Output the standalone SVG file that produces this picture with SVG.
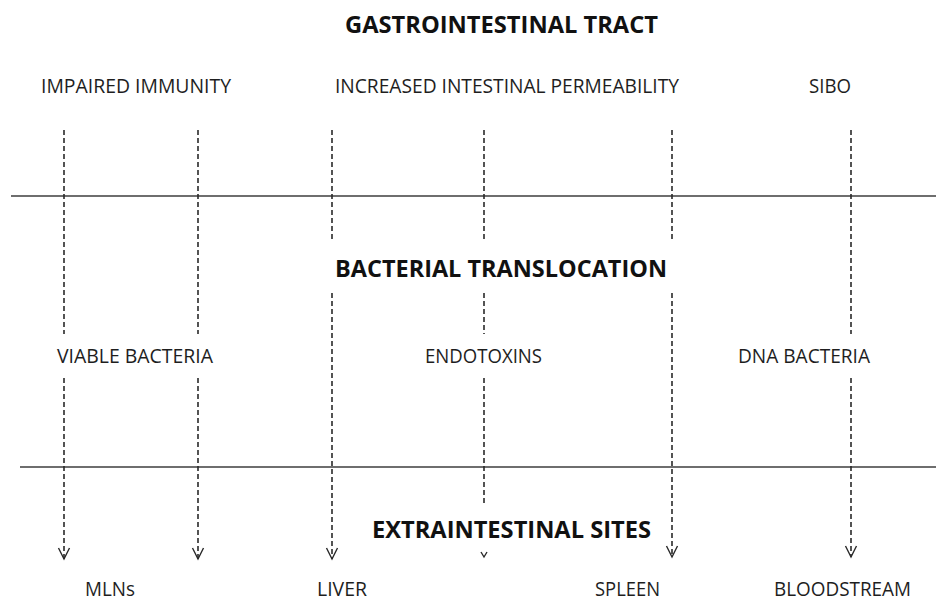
<svg xmlns="http://www.w3.org/2000/svg" width="936" height="601" viewBox="0 0 936 601">
<style>
.t{font-family:"Open Sans","Liberation Sans",sans-serif;font-size:20px;fill:#1e1e1e;text-anchor:start}
.h{font-family:"Open Sans","Liberation Sans",sans-serif;font-size:24px;font-weight:bold;fill:#111}
.d{stroke:#2a2a2a;stroke-width:1.6;stroke-dasharray:5 3;fill:none}
.s{stroke:#6e6e6e;stroke-width:2;fill:none}
.a{stroke:#2a2a2a;stroke-width:1.4;fill:none}
</style>
<defs>
<marker id="arr" markerUnits="userSpaceOnUse" markerWidth="16" markerHeight="16" refX="12" refY="7" orient="auto" viewBox="0 0 16 16">
<path d="M1,1.5 L12,7 L1,12.5" class="a"/>
</marker>
</defs>
<rect width="936" height="601" fill="#fff"/>
<g id="separators">
<line x1="11" y1="196" x2="936" y2="196" class="s"/>
<line x1="20" y1="467" x2="936" y2="467" class="s"/>
</g>
<g id="connectors">
<line x1="64" y1="130" x2="64" y2="334" class="d"/>
<line x1="64" y1="378" x2="64" y2="559" class="d" marker-end="url(#arr)"/>
<line x1="198" y1="130" x2="198" y2="334" class="d"/>
<line x1="198" y1="378" x2="198" y2="559" class="d" marker-end="url(#arr)"/>
<line x1="332" y1="130" x2="332" y2="241" class="d"/>
<line x1="332" y1="293" x2="332" y2="559" class="d" marker-end="url(#arr)"/>
<line x1="484" y1="130" x2="484" y2="241" class="d"/>
<line x1="484" y1="293" x2="484" y2="334" class="d"/>
<line x1="484" y1="378" x2="484" y2="504" class="d"/>
<path d="M481,552 L484,557 L487,552" class="a"/>
<line x1="672" y1="130" x2="672" y2="241" class="d"/>
<line x1="672" y1="293" x2="672" y2="557" class="d" marker-end="url(#arr)"/>
<line x1="851" y1="130" x2="851" y2="334" class="d"/>
<line x1="851" y1="378" x2="851" y2="557" class="d" marker-end="url(#arr)"/>
</g>
<g id="title-gi"><text class="h" x="345" y="33" textLength="313" lengthAdjust="spacingAndGlyphs">GASTROINTESTINAL TRACT</text></g>
<g id="impaired-immunity"><text class="t" x="41" y="93" textLength="190" lengthAdjust="spacingAndGlyphs">IMPAIRED IMMUNITY</text></g>
<g id="permeability"><text class="t" x="335" y="93" textLength="344" lengthAdjust="spacingAndGlyphs">INCREASED INTESTINAL PERMEABILITY</text></g>
<g id="sibo"><text class="t" x="809" y="93" textLength="42" lengthAdjust="spacingAndGlyphs">SIBO</text></g>
<g id="title-bt"><text class="h" x="335" y="277" textLength="332" lengthAdjust="spacingAndGlyphs">BACTERIAL TRANSLOCATION</text></g>
<g id="viable-bacteria"><text class="t" x="57" y="363" textLength="156" lengthAdjust="spacingAndGlyphs">VIABLE BACTERIA</text></g>
<g id="endotoxins"><text class="t" x="425" y="363" textLength="117" lengthAdjust="spacingAndGlyphs">ENDOTOXINS</text></g>
<g id="dna-bacteria"><text class="t" x="738" y="363" textLength="132" lengthAdjust="spacingAndGlyphs">DNA BACTERIA</text></g>
<g id="title-es"><text class="h" x="372" y="538" textLength="279" lengthAdjust="spacingAndGlyphs">EXTRAINTESTINAL SITES</text></g>
<g id="mlns"><text class="t" x="85" y="596" textLength="50" lengthAdjust="spacingAndGlyphs">MLNs</text></g>
<g id="liver"><text class="t" x="317" y="596" textLength="50" lengthAdjust="spacingAndGlyphs">LIVER</text></g>
<g id="spleen"><text class="t" x="595" y="596" textLength="65" lengthAdjust="spacingAndGlyphs">SPLEEN</text></g>
<g id="bloodstream"><text class="t" x="774" y="596" textLength="137" lengthAdjust="spacingAndGlyphs">BLOODSTREAM</text></g>
</svg>
